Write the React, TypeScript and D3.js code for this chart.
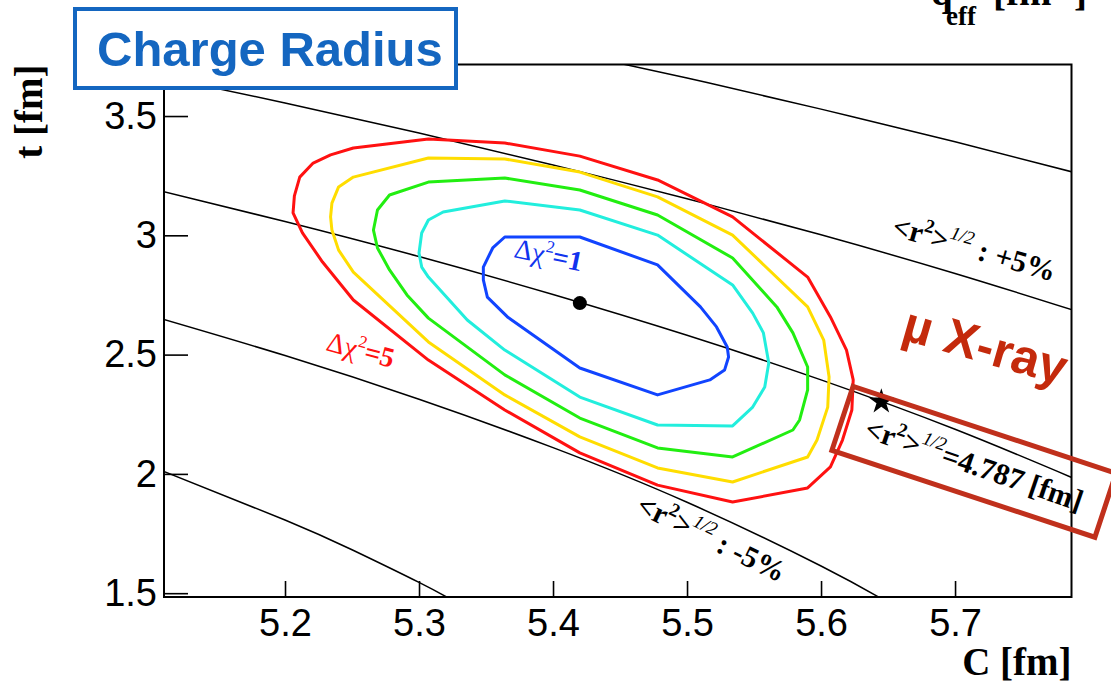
import React, { useEffect, useRef } from "react";
import * as d3 from "d3";

const WIDTH = 1111;
const HEIGHT = 684;

const xTicks = [5.2, 5.3, 5.4, 5.5, 5.6, 5.7];
const yTicks = [1.5, 2, 2.5, 3, 3.5];

// lines of constant <r^2>^1/2, points [C, t]
const rPlus10 = [[5.3, 3.898], [5.4, 3.781], [5.5, 3.659], [5.6, 3.529], [5.7, 3.392], [5.79, 3.262]];
const rPlus5 = [[5.1, 3.674], [5.2, 3.555], [5.3, 3.429], [5.4, 3.295], [5.5, 3.153], [5.6, 3.002], [5.7, 2.84], [5.79, 2.683]];
const rCentral = [[5.1, 3.196], [5.2, 3.058], [5.3, 2.911], [5.4, 2.752], [5.5, 2.581], [5.6, 2.394], [5.7, 2.187], [5.79, 1.978]];
const rMinus5 = [[5.1, 2.663], [5.2, 2.496], [5.3, 2.313], [5.4, 2.11], [5.5, 1.881], [5.6, 1.614], [5.65, 1.461]];
const rMinus10 = [[5.1, 2.032], [5.2, 1.807], [5.25, 1.682], [5.3, 1.545], [5.33, 1.455]];

// delta chi2 contours, [C, t]
const chi5 = [[5.206, 3.094], [5.207, 3.165], [5.211, 3.244], [5.221, 3.303], [5.234, 3.337], [5.251, 3.366], [5.307, 3.404], [5.364, 3.387], [5.42, 3.332], [5.478, 3.232], [5.534, 3.077], [5.59, 2.825], [5.607, 2.658], [5.619, 2.519], [5.624, 2.394], [5.623, 2.268], [5.616, 2.142], [5.607, 2.029], [5.59, 1.941], [5.534, 1.882], [5.478, 1.953], [5.42, 2.088], [5.364, 2.268], [5.307, 2.477], [5.251, 2.729], [5.228, 2.888], [5.213, 3.01]];
const chi4 = [[5.234, 3.077], [5.235, 3.135], [5.24, 3.203], [5.251, 3.244], [5.307, 3.324], [5.364, 3.32], [5.42, 3.265], [5.478, 3.161], [5.534, 3.001], [5.59, 2.7], [5.602, 2.561], [5.606, 2.406], [5.605, 2.28], [5.597, 2.142], [5.59, 2.071], [5.534, 1.966], [5.478, 2.025], [5.42, 2.155], [5.364, 2.331], [5.307, 2.553], [5.251, 2.846], [5.24, 2.938], [5.235, 3.022]];
const chi3 = [[5.266, 3.022], [5.269, 3.106], [5.278, 3.169], [5.307, 3.223], [5.364, 3.24], [5.42, 3.19], [5.478, 3.085], [5.534, 2.905], [5.567, 2.7], [5.579, 2.591], [5.59, 2.448], [5.59, 2.352], [5.584, 2.226], [5.579, 2.184], [5.534, 2.071], [5.478, 2.109], [5.42, 2.234], [5.364, 2.415], [5.307, 2.653], [5.291, 2.75], [5.278, 2.855], [5.269, 2.947]];
const chi2 = [[5.3, 2.926], [5.302, 3.01], [5.307, 3.064], [5.318, 3.098], [5.364, 3.144], [5.42, 3.106], [5.478, 3.001], [5.534, 2.792], [5.549, 2.674], [5.557, 2.591], [5.561, 2.465], [5.558, 2.364], [5.549, 2.28], [5.534, 2.201], [5.478, 2.205], [5.42, 2.322], [5.364, 2.519], [5.336, 2.645], [5.307, 2.825], [5.302, 2.867]];
const chi1 = [[5.348, 2.867], [5.355, 2.947], [5.364, 2.993], [5.42, 2.993], [5.478, 2.876], [5.51, 2.7], [5.522, 2.616], [5.53, 2.532], [5.531, 2.49], [5.528, 2.435], [5.517, 2.394], [5.478, 2.331], [5.42, 2.444], [5.366, 2.658], [5.351, 2.741], [5.348, 2.813]];

const bestFit = [5.42, 2.716];
const muXray = [5.645, 2.303];

const contours = [chi5, chi4, chi3, chi2, chi1];
const contourColors = ["#ff1111", "#ffdd00", "#22ee11", "#22eedd", "#1144ff"];

const SANS = "'Liberation Sans', Arial, Helvetica, sans-serif";
const SERIF = "'Liberation Serif', 'Times New Roman', serif";

function ChargeRadiusChart() {
  const ref = useRef<SVGSVGElement>(null);

  useEffect(() => {
    const svg = d3.select(ref.current);
    svg.selectAll("*").remove();

    const margin = { top: 64.5, right: 39.5, bottom: 87, left: 164 };
    const x = d3.scaleLinear().domain([5.1097, 5.7869]).range([margin.left, WIDTH - margin.right]);
    const y = d3.scaleLinear().domain([1.484, 3.716]).range([HEIGHT - margin.bottom, margin.top]);

    svg.append("rect").attr("width", WIDTH).attr("height", HEIGHT).attr("fill", "#fff");

    svg
      .append("defs")
      .append("clipPath")
      .attr("id", "plot-clip")
      .append("rect")
      .attr("x", x.range()[0])
      .attr("y", y.range()[1])
      .attr("width", x.range()[1] - x.range()[0])
      .attr("height", y.range()[0] - y.range()[1]);

    const plot = svg.append("g").attr("clip-path", "url(#plot-clip)");

    const curve = d3
      .line()
      .x((d) => x(d[0]))
      .y((d) => y(d[1]))
      .curve(d3.curveNatural);

    plot
      .selectAll(".rline")
      .data([rPlus10, rPlus5, rCentral, rMinus5, rMinus10])
      .join("path")
      .attr("class", "rline")
      .attr("d", (d) => curve(d))
      .attr("fill", "none")
      .attr("stroke", "#000")
      .attr("stroke-width", 1.5);

    const closed = d3
      .line()
      .x((d) => x(d[0]))
      .y((d) => y(d[1]))
      .curve(d3.curveLinearClosed);

    plot
      .selectAll(".contour")
      .data(contours)
      .join("path")
      .attr("class", "contour")
      .attr("d", (d) => closed(d))
      .attr("fill", "none")
      .attr("stroke", (d, i) => contourColors[i])
      .attr("stroke-width", 3)
      .attr("stroke-linejoin", "round");

    plot
      .append("circle")
      .attr("cx", x(bestFit[0]))
      .attr("cy", y(bestFit[1]))
      .attr("r", 7)
      .attr("fill", "#000");

    plot
      .append("path")
      .attr("d", d3.symbol(d3.symbolStar, 200)())
      .attr("transform", `translate(${x(muXray[0])},${y(muXray[1])})`)
      .attr("fill", "#000");

    // axes, ticks point inwards
    const xAxis = (g) =>
      g
        .attr("transform", `translate(0,${y.range()[0]})`)
        .call(d3.axisBottom(x).tickValues(xTicks).tickSize(-16).tickPadding(12).tickFormat(d3.format("~g")))
        .call((g) => g.select(".domain").remove());

    const yAxis = (g) =>
      g
        .attr("transform", `translate(${x.range()[0]},0)`)
        .call(d3.axisLeft(y).tickValues(yTicks).tickSize(-24).tickPadding(7).tickFormat(d3.format("~g")))
        .call((g) => g.select(".domain").remove());

    [svg.append("g").call(xAxis), svg.append("g").call(yAxis)].forEach((g) => {
      g.attr("font-size", 38).attr("font-family", SANS);
      g.selectAll("line").attr("stroke-width", 1.6);
      g.selectAll("text").attr("fill", "#000");
    });

    svg
      .append("rect")
      .attr("x", x.range()[0])
      .attr("y", y.range()[1])
      .attr("width", x.range()[1] - x.range()[0])
      .attr("height", y.range()[0] - y.range()[1])
      .attr("fill", "none")
      .attr("stroke", "#000")
      .attr("stroke-width", 2);

    // axis titles
    svg
      .append("text")
      .attr("x", x.range()[1])
      .attr("y", 675)
      .attr("text-anchor", "end")
      .attr("font-family", SERIF)
      .attr("font-weight", "bold")
      .attr("font-size", 39)
      .text("C [fm]");

    svg
      .append("text")
      .attr("transform", `translate(42,${y.range()[1]}) rotate(-90)`)
      .attr("text-anchor", "end")
      .attr("font-family", SERIF)
      .attr("font-weight", "bold")
      .attr("font-size", 39)
      .text("t [fm]");

    // the q_eff title sits partly above the top edge, as in the original
    const q = svg
      .append("text")
      .attr("x", 931)
      .attr("y", 5)
      .attr("font-family", SERIF)
      .attr("font-weight", "bold")
      .attr("font-size", 39);
    q.append("tspan").text("q");
    q.append("tspan").attr("x", 946).attr("dy", 20).attr("font-size", 27).text("eff");
    q.append("tspan").attr("x", 993).attr("dy", -20).text("[fm");
    q.append("tspan").attr("dy", -14).attr("font-size", 27).text("-1");
    q.append("tspan").attr("dy", 14).text("]");

    // annotations
    const rotated = (c, t, angle) =>
      svg.append("g").attr("transform", `translate(${x(c)},${y(t)}) rotate(${angle})`);

    const rLabel = (g, suffix) => {
      const t = g
        .append("text")
        .attr("font-family", SERIF)
        .attr("font-weight", "bold")
        .attr("font-size", 30);
      t.append("tspan").text("<r");
      t.append("tspan").attr("font-size", 19).attr("dy", -13).text("2");
      t.append("tspan").attr("dy", 13).text(">");
      t.append("tspan")
        .attr("font-size", 19)
        .attr("font-weight", "normal")
        .attr("font-style", "italic")
        .attr("dy", -13)
        .text("1/2");
      t.append("tspan").attr("dy", 13).text(suffix);
    };

    rLabel(rotated(5.652, 3.001, 16), " : +5%");
    rLabel(rotated(5.461, 1.84, 26), " : -5%");
    rLabel(rotated(5.6313, 2.155, 19), "=4.787 [fm]");

    const chiLabel = (g, value, color) => {
      const t = g.append("text").attr("font-family", SERIF).attr("font-size", 28).attr("fill", color);
      t.append("tspan").text("Δχ");
      t.append("tspan").attr("font-size", 17).attr("dy", -12).text("2");
      t.append("tspan").attr("font-weight", "bold").attr("dy", 12).text("=" + value);
    };
    chiLabel(rotated(5.3701, 2.909, 12), 1, "#1133ee");
    chiLabel(rotated(5.2299, 2.519, 15), 5, "#ff1111");

    rotated(5.659, 2.565, 16)
      .append("text")
      .attr("font-family", SANS)
      .attr("font-weight", "bold")
      .attr("font-size", 50)
      .attr("fill", "#c42a0c")
      .text("µ X-ray");

    rotated(5.616, 2.233, 18.3)
      .append("rect")
      .attr("x", 0)
      .attr("y", -33.7)
      .attr("width", 277)
      .attr("height", 67.4)
      .attr("fill", "none")
      .attr("stroke", "#c0301c")
      .attr("stroke-width", 5);

    // title box
    svg
      .append("rect")
      .attr("x", 75)
      .attr("y", 9)
      .attr("width", 381)
      .attr("height", 79)
      .attr("fill", "#fff")
      .attr("stroke", "#1466c0")
      .attr("stroke-width", 4);
    svg
      .append("text")
      .attr("x", 97)
      .attr("y", 66)
      .attr("font-family", SANS)
      .attr("font-weight", "bold")
      .attr("font-size", 49)
      .attr("fill", "#1466c0")
      .text("Charge Radius");
  }, []);

  return (
    <svg
      ref={ref}
      width={WIDTH}
      height={HEIGHT}
      style={{ position: "absolute", left: 0, top: 0, display: "block" }}
    />
  );
}

export default function App() {
  return <ChargeRadiusChart />;
}
